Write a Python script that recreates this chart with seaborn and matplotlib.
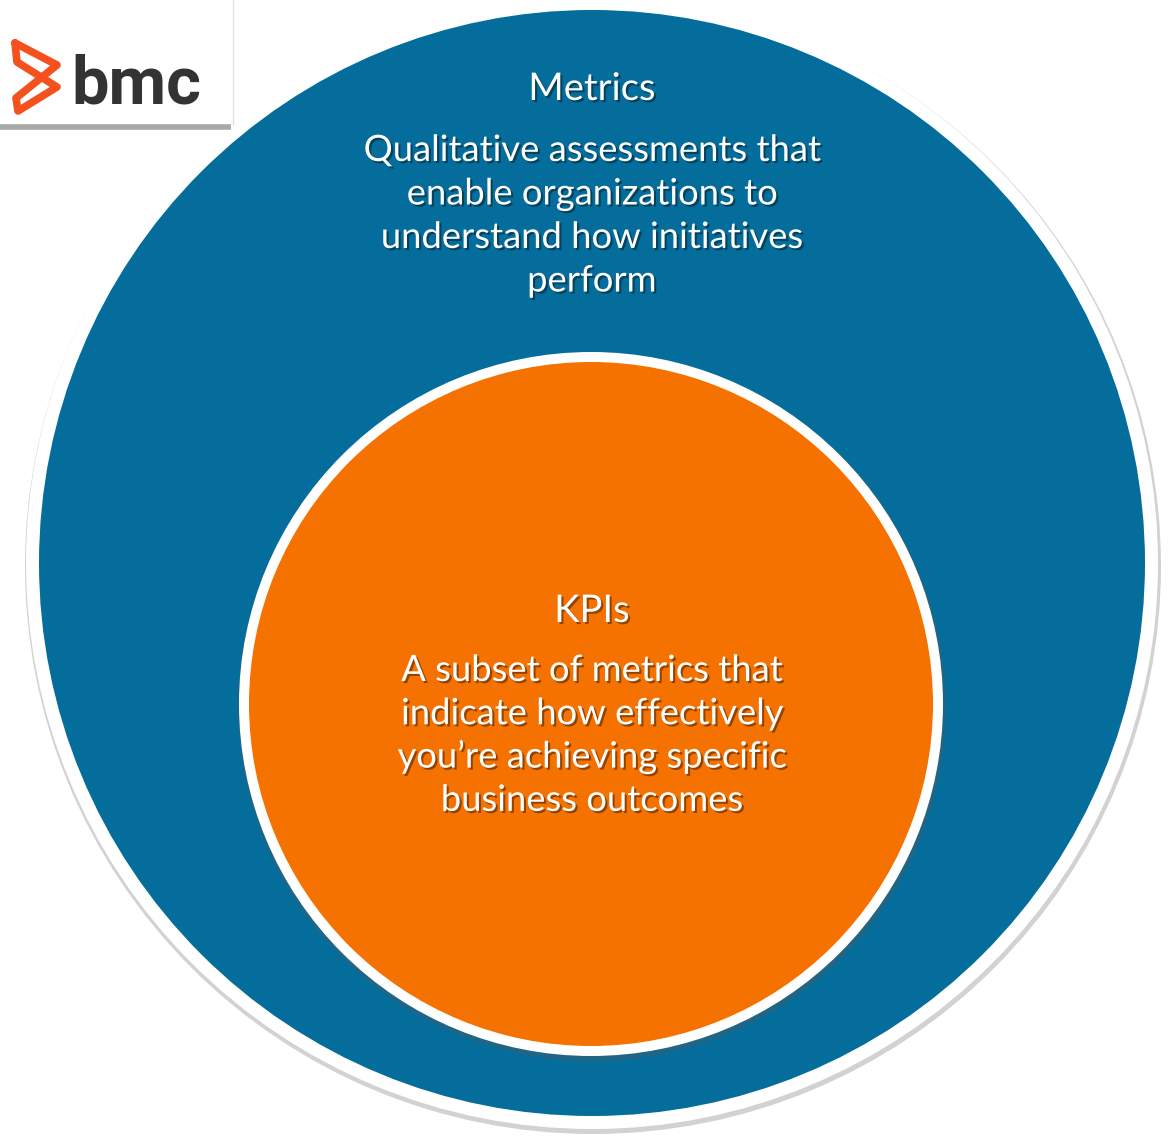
import matplotlib
matplotlib.use("Agg")
import matplotlib.pyplot as plt
import matplotlib.patheffects as pe
from matplotlib.patches import Circle, Rectangle
from matplotlib.lines import Line2D
import seaborn as sns

# ---- content ----
circle_labels = ["Metrics", "KPIs"]
metrics_lines = ["Qualitative assessments that",
                 "enable organizations to",
                 "understand how initiatives",
                 "perform"]
kpi_lines = ["A subset of metrics that",
             "indicate how effectively",
             "you\u2019re achieving specific",
             "business outcomes"]
logo_text = "bmc"

# ---- styles / layout ----
BLUE = "#056d9b"
ORANGE = "#f57100"
W, H = 1169, 1138

sns.set_theme(style="white")
plt.rcParams["font.family"] = ["Lato", "DejaVu Sans"]

fig = plt.figure(figsize=(W / 100, H / 100), dpi=100)
ax = fig.add_axes([0, 0, 1, 1])
ax.set_xlim(0, W)
ax.set_ylim(H, 0)
ax.set_axis_off()

# outer circle (Metrics)
ocx, ocy, orad = 592, 563, 553
ax.add_patch(Circle((ocx + 1, ocy + 3), orad + 15, color="#d2d2d2", lw=0, zorder=1))
ax.add_patch(Circle((ocx, ocy), orad + 13, color="white", lw=0, zorder=2))
ax.add_patch(Circle((ocx, ocy), orad, color=BLUE, lw=0, zorder=3))

# inner circle (KPIs)
icx, icy, irad = 591, 704, 342
ax.add_patch(Circle((icx + 1, icy + 3), irad + 12, color="#3d5f70", lw=0, zorder=4, alpha=0.5))
ax.add_patch(Circle((icx, icy), irad + 10, color="white", lw=0, zorder=5))
ax.add_patch(Circle((icx, icy), irad, color=ORANGE, lw=0, zorder=6))

shadow = [pe.SimplePatchShadow(offset=(1.5, -1.5), shadow_rgbFace="black", alpha=0.4), pe.Normal()]
fs_title = 27.5
fs_body = 26.2

ax.text(592, 100, circle_labels[0], ha="center", va="baseline", color="white",
        fontsize=fs_title, zorder=10, path_effects=shadow)
for i, line in enumerate(metrics_lines):
    ax.text(592, 161 + i * 43.5, line, ha="center", va="baseline", color="white",
            fontsize=fs_body, zorder=10, path_effects=shadow)

ax.text(592, 622, circle_labels[1], ha="center", va="baseline", color="white",
        fontsize=fs_title, zorder=10, path_effects=shadow)
for i, line in enumerate(kpi_lines):
    ax.text(592, 681 + i * 43.3, line, ha="center", va="baseline", color="white",
            fontsize=fs_body, zorder=10, path_effects=shadow)

# logo box
ax.add_patch(Rectangle((0, 0), 232, 125, color="white", lw=0, zorder=20))
ax.add_line(Line2D([0, 231], [127, 127], color="#a8a8a8", lw=4, zorder=21, solid_capstyle="butt"))
ax.add_line(Line2D([233, 233], [0, 125], color="#e2e2e2", lw=1, zorder=21))
ax.add_line(Line2D([15, 57, 16, 18, 57, 17, 15], [43, 65, 98, 111, 87, 62, 43],
                   color="#f4511e", lw=5.5, zorder=22, solid_joinstyle="round",
                   solid_capstyle="round"))
ax.text(71, 103, logo_text, ha="left", va="baseline", color="#333333",
        fontsize=48, fontweight="bold", family=["Roboto", "DejaVu Sans"], zorder=22)

fig.savefig("out.png", dpi=100)
